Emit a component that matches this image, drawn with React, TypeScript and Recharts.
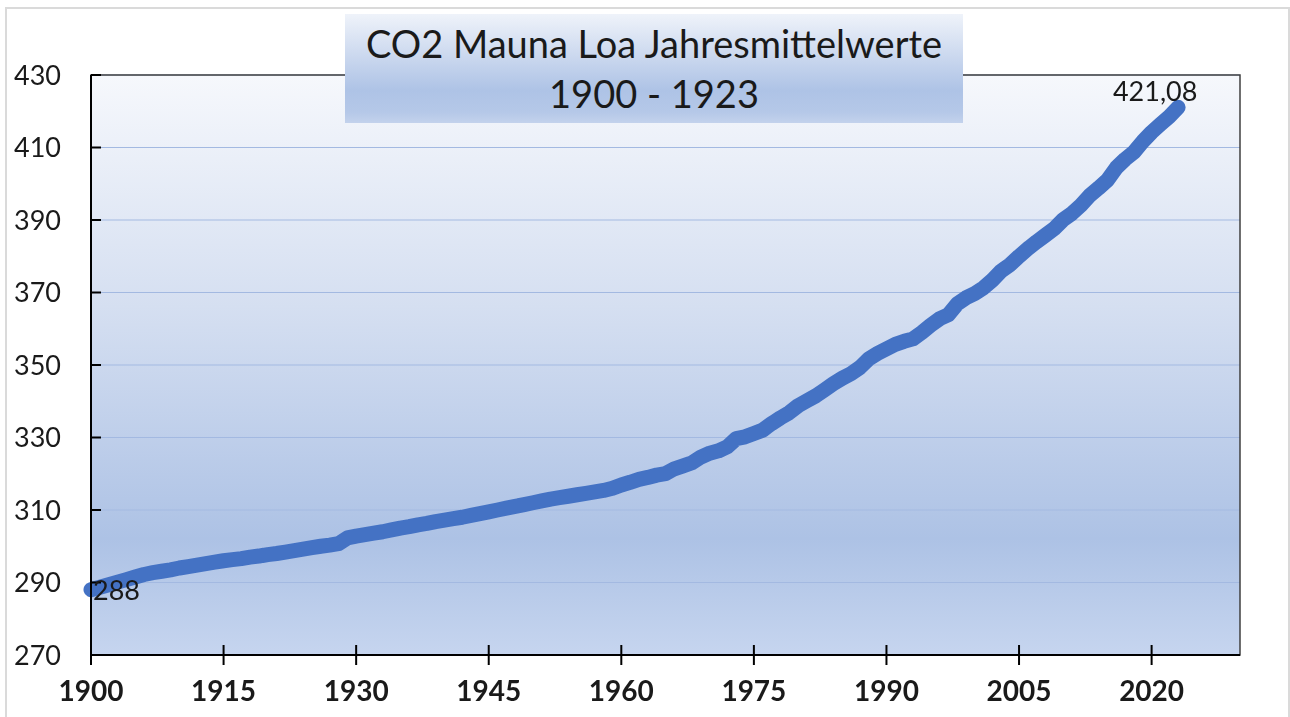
import { CartesianGrid, Line, LineChart, ReferenceArea, XAxis, YAxis } from "recharts";

const years = [
  1900, 1901, 1902, 1903, 1904, 1905, 1906, 1907, 1908, 1909,
  1910, 1911, 1912, 1913, 1914, 1915, 1916, 1917, 1918, 1919,
  1920, 1921, 1922, 1923, 1924, 1925, 1926, 1927, 1928, 1929,
  1930, 1931, 1932, 1933, 1934, 1935, 1936, 1937, 1938, 1939,
  1940, 1941, 1942, 1943, 1944, 1945, 1946, 1947, 1948, 1949,
  1950, 1951, 1952, 1953, 1954, 1955, 1956, 1957, 1958, 1959,
  1960, 1961, 1962, 1963, 1964, 1965, 1966, 1967, 1968, 1969,
  1970, 1971, 1972, 1973, 1974, 1975, 1976, 1977, 1978, 1979,
  1980, 1981, 1982, 1983, 1984, 1985, 1986, 1987, 1988, 1989,
  1990, 1991, 1992, 1993, 1994, 1995, 1996, 1997, 1998, 1999,
  2000, 2001, 2002, 2003, 2004, 2005, 2006, 2007, 2008, 2009,
  2010, 2011, 2012, 2013, 2014, 2015, 2016, 2017, 2018, 2019,
  2020, 2021, 2022, 2023,
];

const co2 = [
  288.0, 288.7, 289.4, 290.1, 290.8, 291.5, 292.2, 292.7, 293.1, 293.5,
  294.0, 294.4, 294.8, 295.2, 295.6, 296.0, 296.3, 296.6, 297.0, 297.3,
  297.7, 298.0, 298.4, 298.8, 299.2, 299.6, 300.0, 300.3, 300.7, 302.3,
  302.8, 303.2, 303.6, 304.0, 304.5, 305.0, 305.4, 305.9, 306.3, 306.8,
  307.2, 307.6, 308.0, 308.5, 309.0, 309.5, 310.0, 310.5, 311.0, 311.5,
  312.0, 312.5, 313.0, 313.4, 313.8, 314.2, 314.6, 315.0, 315.4, 315.98,
  316.91, 317.64, 318.45, 318.99, 319.62, 320.04, 321.37, 322.18, 323.05, 324.62,
  325.68, 326.32, 327.46, 329.68, 330.19, 331.13, 332.03, 333.84, 335.41, 336.84,
  338.76, 340.12, 341.48, 343.15, 344.87, 346.35, 347.61, 349.31, 351.69, 353.2,
  354.45, 355.7, 356.54, 357.21, 358.96, 360.97, 362.74, 363.88, 366.84, 368.54,
  369.71, 371.32, 373.45, 375.98, 377.7, 379.98, 382.09, 384.02, 385.83, 387.64,
  390.1, 391.85, 394.06, 396.74, 398.81, 401.01, 404.41, 406.76, 408.72, 411.65,
  414.21, 416.41, 418.53, 421.08,
];

const xTicks = [1900, 1915, 1930, 1945, 1960, 1975, 1990, 2005, 2020];
const yTicks = [270, 290, 310, 330, 350, 370, 390, 410, 430];

const data = years.map((year, i) => ({ year, co2: co2[i] }));

const FONT = "Lato, 'Open Sans', sans-serif";

const fmt = (v: number) => String(v).replace(".", ",");

const PointLabel = (props: any) => {
  const { x, y, value, index } = props;
  if (index === 0) {
    return (
      <text x={x + 2} y={y} dominantBaseline="central" fontSize={27} fontFamily={FONT} fill="#1a1a1a">
        {fmt(value)}
      </text>
    );
  }
  if (index === co2.length - 1) {
    return (
      <text x={x - 23} y={y - 17} textAnchor="middle" dominantBaseline="central" fontSize={27} fontFamily={FONT} fill="#1a1a1a">
        {fmt(value)}
      </text>
    );
  }
  return null;
};

export default function App() {
  return (
    <div style={{ position: "relative", width: 1274, height: 709 }}>
      <div
        style={{
          position: "fixed",
          left: 5,
          top: 7,
          width: 1281,
          height: 720,
          border: "2px solid #dadada",
          background: "#fff",
        }}
      />
      <div style={{ position: "absolute", left: -1, top: 0 }}>
        <LineChart width={1280} height={708} data={data} margin={{ top: 67, right: 47, bottom: 11, left: 0 }}>
          <defs>
            <linearGradient id="plotBg" x1="0" y1="0" x2="0" y2="1">
              <stop offset="0%" stopColor="#f6f8fc" />
              <stop offset="40%" stopColor="#d5dff1" />
              <stop offset="80%" stopColor="#adc2e5" />
              <stop offset="100%" stopColor="#c6d5ef" />
            </linearGradient>
          </defs>
          <CartesianGrid vertical={false} stroke="#a3b9e1" strokeWidth={1.2} fill="url(#plotBg)" fillOpacity={1} />
          <ReferenceArea x1={1900} x2={2030} y1={270} y2={430} fill="none" stroke="#404040" strokeWidth={1.5} />
          <XAxis
            dataKey="year"
            type="number"
            domain={[1900, 2030]}
            ticks={xTicks}
            height={50}
            axisLine={{ stroke: "#000", strokeWidth: 2 }}
            tickLine={{ stroke: "#000", strokeWidth: 2, transform: "translate(0,-10)" }}
            tickSize={20}
            tickMargin={6}
            tick={{ fontSize: 28, fontWeight: 700, fontFamily: FONT, fill: "#1a1a1a" }}
            interval={0}
          />
          <YAxis
            type="number"
            domain={[270, 430]}
            ticks={yTicks}
            width={84}
            axisLine={{ stroke: "#000", strokeWidth: 2 }}
            tickLine={{ stroke: "#000", strokeWidth: 2 }}
            tickSize={-10}
            tickMargin={40}
            tick={{ fontSize: 27, fontFamily: FONT, fill: "#1a1a1a" }}
            interval={0}
          />
          <Line
            type="linear"
            dataKey="co2"
            stroke="#4472c4"
            strokeWidth={15}
            strokeLinecap="round"
            strokeLinejoin="round"
            dot={false}
            activeDot={false}
            isAnimationActive={false}
            label={<PointLabel />}
          />
        </LineChart>
      </div>
      <div
        style={{
          position: "absolute",
          left: 337,
          top: 6,
          width: 618,
          height: 109,
          background: "linear-gradient(to bottom, #eff3fa 0%, #d3def1 30%, #aec3e6 70%, #b5c8e8 90%, #c3d2ec 100%)",
          fontFamily: FONT,
          color: "#1a1a1a",
          textAlign: "center",
          fontSize: 38,
          lineHeight: "50px",
          paddingTop: 4,
          boxSizing: "border-box",
        }}
      >
        <div>CO2 Mauna Loa Jahresmittelwerte</div>
        <div>1900 - 1923</div>
      </div>
    </div>
  );
}
